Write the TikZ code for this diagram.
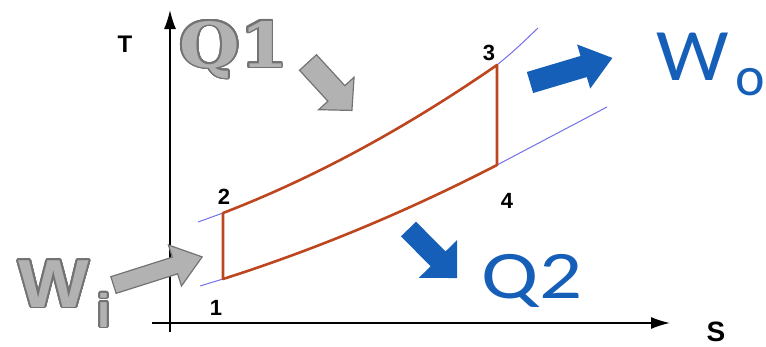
\documentclass[tikz,border=0pt]{standalone}
\usepackage{fontspec}
\usepackage{contour}
\usetikzlibrary{arrows.meta}
\newfontfamily\labfont{Liberation Sans}
\newfontfamily\calfont{Carlito}
\newfontfamily\slabfont{DejaVu Serif}
\definecolor{cyclered}{RGB}{190,70,30}
\definecolor{isoblue}{RGB}{115,110,235}
\definecolor{flowblue}{RGB}{22,95,185}
\definecolor{grayfill}{RGB}{178,178,178}
\definecolor{grayline}{RGB}{115,115,115}
\contourlength{1.6pt}
\contournumber{24}
\newcommand\blockarr[8]{%
  \begin{scope}[shift={(#2,#3)},rotate=#4]
    \path[#1] (0,{-#6/2}) -- ({#5-#8},{-#6/2}) -- ({#5-#8},{-#7/2}) -- (#5,0)
      -- ({#5-#8},{#7/2}) -- ({#5-#8},{#6/2}) -- (0,{#6/2}) -- cycle;
  \end{scope}}
\tikzset{
  axis/.style={line width=1.5pt,-{Latex[length=19pt,width=12pt]}},
  cycleline/.style={line width=2.6pt,cyclered,line join=round},
  isobar/.style={line width=1pt,isoblue},
  ptlabel/.style={font=\labfont\bfseries\fontsize{22}{22}\selectfont,anchor=base,inner sep=0pt},
  graybox/.style={fill=grayfill,draw=grayline,line width=1.2pt,line join=miter},
  bluebox/.style={fill=flowblue},
  bigblue/.style={text=flowblue,anchor=base,inner sep=0pt},
  biggray/.style={text=grayfill,anchor=base,inner sep=0pt},
}
\begin{document}
\begin{tikzpicture}[x=1pt,y=-1pt]
\useasboundingbox (0,0) rectangle (766,346);
% axes
\coordinate (o1) at (170,332);
\coordinate (tt) at (170,10);
\coordinate (o2) at (152,323);
\coordinate (st) at (670,323);
\draw[axis] (o1) -- (tt);
\draw[axis] (o2) -- (st);
\node[font=\labfont\bfseries\fontsize{24}{24}\selectfont,anchor=base,inner sep=0pt] (T) at (125,52) {T};
\node[font=\labfont\bfseries\fontsize{28}{28}\selectfont,anchor=base,inner sep=0pt] (S) at (716,341) {S};
% state points
\coordinate (p1) at (223,279);
\coordinate (p2) at (223,213);
\coordinate (p3) at (497,65);
\coordinate (p4) at (497,165);
\coordinate (i2) at (198,222);
\coordinate (i3) at (538,28);
\coordinate (i1) at (200,286);
\coordinate (i4) at (607,107);
% isobars
\draw[isobar] (i2) -- (p2);
\draw[isobar] (p3) .. controls (515,50) .. (i3);
\draw[isobar] (i1) -- (p1);
\draw[isobar] (p4) -- (i4);
% cycle
\draw[cycleline] (p1) -- (p2) .. controls (314,178) and (406,128) .. (p3)
  -- (p4) .. controls (406,212) and (314,250) .. (p1) -- cycle;
\node[ptlabel] (n1) at (216,315) {1};
\node[ptlabel] (n2) at (224,204) {2};
\node[ptlabel] (n3) at (489,60) {3};
\node[ptlabel] (n4) at (507,208) {4};
% block arrows
\blockarr{graybox}{308}{62.5}{-47.5}{65}{23}{48}{23}
\blockarr{graybox}{113.5}{285}{17.6}{93}{17.5}{43}{28.5}
\blockarr{bluebox}{530}{82.5}{16.6}{86}{22}{46}{30}
\blockarr{bluebox}{408.5}{229}{-45.3}{69}{21}{54}{27}
% big labels
\node[biggray,xscale=1.12,font=\slabfont\bfseries\fontsize{62}{62}\selectfont] (Q1) at (234,67) {\contour{grayline}{Q1}};
\node[biggray,xscale=1.1,font=\labfont\bfseries\fontsize{68}{68}\selectfont] (Wi) at (54,307) {\contour{grayline}{W}};
\node[biggray,font=\labfont\bfseries\fontsize{47}{47}\selectfont] (Wisub) at (104,327) {\contour{grayline}{i}};
\node[bigblue,xscale=1.25,font=\calfont\fontsize{68}{68}\selectfont] (Q2) at (532,298) {Q2};
\node[bigblue,xscale=1.1,font=\calfont\fontsize{74}{74}\selectfont] (Wo) at (693,80) {W};
\node[bigblue,font=\calfont\fontsize{56}{56}\selectfont,anchor=base east] (Wosub) at (765,95) {o};
\end{tikzpicture}
\end{document}
